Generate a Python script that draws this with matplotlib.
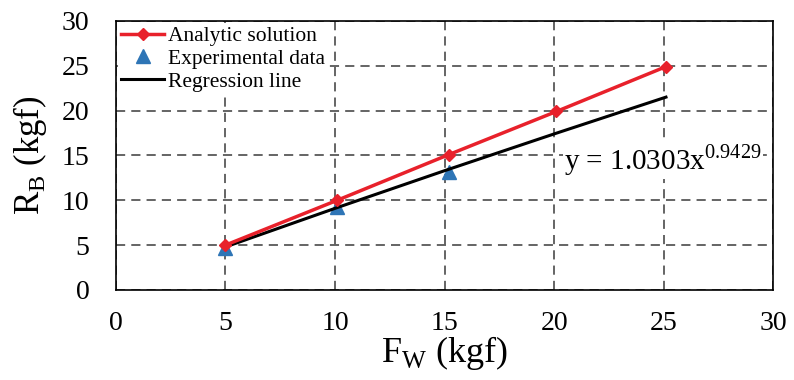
import matplotlib
matplotlib.use("Agg")
import matplotlib.pyplot as plt

# analytic solution
fw_analytic = [5, 10.1, 15.2, 20.1, 25.1]
rb_analytic = [5.0, 10.0, 15.1, 19.9, 24.9]

# experimental data
fw_exp = [5, 10.1, 15.2]
rb_exp = [4.7, 9.2, 13.2]

# regression line y = 1.0303x^0.9429
fw_reg = [5, 10, 15, 20, 25.1]
rb_reg = [4.8, 9.1, 13.3, 17.4, 21.5]

xticks = [0, 5, 10, 15, 20, 25, 30]
yticks = [0, 5, 10, 15, 20, 25, 30]

plt.rcParams['font.family'] = ['Liberation Serif', 'DejaVu Serif']
plt.rcParams['mathtext.fontset'] = 'custom'
plt.rcParams['mathtext.rm'] = 'Liberation Serif'

fig = plt.figure(figsize=(7.94, 3.8), dpi=100)
ax = fig.add_axes([0.146, 0.237, 0.828, 0.708])

ax.plot(fw_analytic, rb_analytic, color="#e8212b", lw=2.5, marker="D",
        ms=6, label="Analytic solution", zorder=4)
ax.plot(fw_exp, rb_exp, linestyle="none", marker="^", color="#2e75b6",
        ms=10, label="Experimental data", zorder=3)
ax.plot(fw_reg, rb_reg, color="k", lw=2.2, label="Regression line", zorder=3)

ax.text(20.45, 14.5, r"y = 1.0303x$^{0.9429}$", fontsize=21, va="center",
        ha="left", zorder=5,
        bbox=dict(facecolor="white", edgecolor="none", pad=1))

ax.set_xlim(0, 30)
ax.set_ylim(0, 30)
ax.set_xticks(xticks)
ax.set_yticks(yticks)
ax.tick_params(length=0, labelsize=20)
ax.tick_params(axis="y", pad=19)
ax.tick_params(axis="x", pad=15)
ax.grid(True, linestyle=(0, (6, 4)), color="#3a3a3a", lw=1.1)
ax.set_axisbelow(True)
for s in ax.spines.values():
    s.set_linewidth(1.2)

ax.set_xlabel(r"F$_{\mathrm{W}}$ (kgf)", fontsize=26, labelpad=-1)
ax.set_ylabel(r"R$_{\mathrm{B}}$ (kgf)", fontsize=25, labelpad=9)

leg = ax.legend(loc="upper left", fontsize=15.5, frameon=True, fancybox=False,
                borderaxespad=0.1, handlelength=2.0, handletextpad=0.15,
                labelspacing=0.12, borderpad=0.15)
leg.get_frame().set_edgecolor("none")
leg.get_frame().set_facecolor("white")
leg.get_frame().set_alpha(1)

fig.savefig("out.png", dpi=100)
